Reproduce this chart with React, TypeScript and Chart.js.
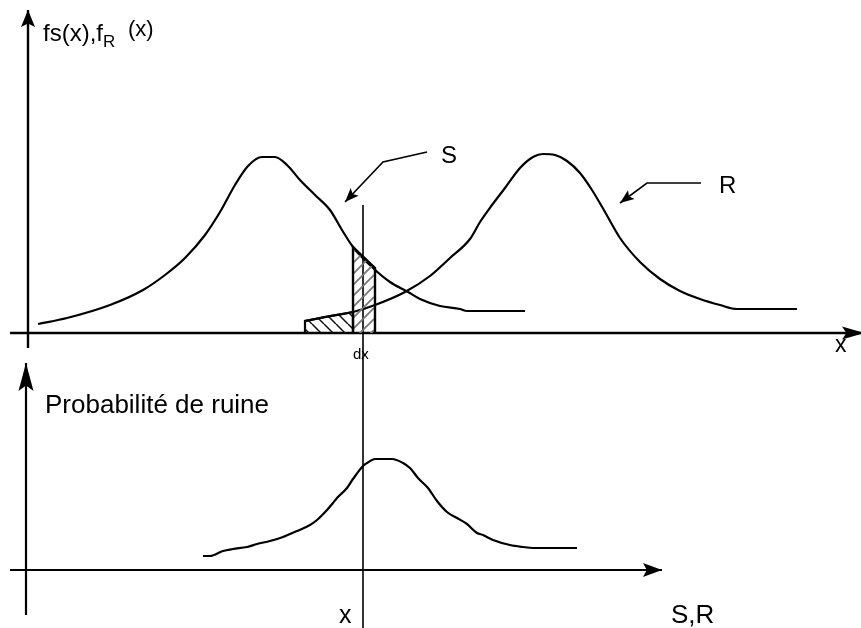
import React, { useEffect, useRef } from "react";
import { Chart, registerables } from "chart.js";

Chart.register(...registerables);

const W = 861;
const H = 628;

// Diagram coordinates (x to the right, y downward, in diagram units)
const sCurveX = [38, 67, 110, 143, 165, 185, 205, 220, 235, 248, 262, 275, 287, 300, 315, 330, 342, 353, 373, 390, 408, 420, 440, 460, 467, 525];
const sCurveY = [324, 318, 305, 290, 275, 258, 235, 212, 185, 166, 157, 157, 165, 180, 195, 210, 230, 247, 268, 282, 292, 299, 306, 309, 311, 311];

const rCurveX = [305, 330, 353, 375, 405, 430, 450, 470, 480, 492, 505, 520, 533, 543, 555, 567, 580, 592, 605, 620, 640, 660, 680, 700, 720, 737, 797];
const rCurveY = [321, 316, 312, 305, 292, 276, 258, 239, 222, 205, 188, 168, 157, 154, 155, 161, 173, 190, 212, 238, 262, 279, 291, 299, 305, 309, 309];

const ruinX = [203, 210, 223, 233, 247, 257, 270, 283, 297, 310, 317, 327, 333, 337, 347, 353, 363, 367, 375, 392, 403, 410, 418, 428, 437, 447, 457, 467, 477, 483, 493, 510, 523, 533, 577];
const ruinY = [556, 556, 551, 549, 547, 544, 541, 537, 531, 525, 520, 510, 503, 498, 488, 479, 466, 463, 459, 459, 463, 468, 478, 488, 501, 512, 518, 524, 533, 535, 540, 545, 547, 548, 548];

const hatchRectX = [353, 353, 375, 375];
const hatchRectY = [333, 247, 268, 333];
const hatchTailX = [305, 305, 353, 353];
const hatchTailY = [333, 321, 312, 333];

const topYAxisX = [28, 28];
const topYAxisY = [348, 10];
const topXAxisX = [10, 864];
const topXAxisY = [333, 333];
const botYAxisX = [26, 26];
const botYAxisY = [615, 363];
const botXAxisX = [10, 662];
const botXAxisY = [570, 570];
const cursorX = [363, 363];
const cursorY = [205, 628];
const sLeaderX = [427, 383, 345];
const sLeaderY = [152, 162, 202];
const rLeaderX = [701, 647, 620];
const rLeaderY = [183, 183, 203];

const labelTexts = ["fs(x),f", "R", "(x)", "S", "R", "x", "dx", "Probabilité de ruine", "x", "S,R"];
const labelX = [43, 103, 128, 441, 719, 835, 353, 45, 339, 671];
const labelY = [41, 47, 36, 163, 193, 352, 359, 413, 623, 623];
const labelSize = [24, 17, 22, 24, 24, 23, 15, 26, 25, 26];

const FONT = "'Liberation Sans', Arial, Helvetica, sans-serif";

function pts(xs: number[], ys: number[]) {
  return xs.map((x, i) => ({ x, y: ys[i] }));
}

function makeHatch(ctx: CanvasRenderingContext2D, forward: boolean, color: string, lw: number, size: number) {
  const c = document.createElement("canvas");
  c.width = size;
  c.height = size;
  const g = c.getContext("2d")!;
  g.strokeStyle = color;
  g.lineWidth = lw;
  g.beginPath();
  for (let k = -1; k <= 1; k++) {
    if (forward) {
      g.moveTo(k * size, size);
      g.lineTo(k * size + size, 0);
    } else {
      g.moveTo(k * size, 0);
      g.lineTo(k * size + size, size);
    }
  }
  g.stroke();
  return ctx.createPattern(c, "repeat");
}

const arrowPlugin = {
  id: "arrowHeads",
  afterDatasetsDraw(chart: any) {
    const ctx = chart.ctx;
    chart.data.datasets.forEach((ds: any, i: number) => {
      if (!ds.arrow) return;
      const meta = chart.getDatasetMeta(i);
      const n = meta.data.length;
      const tip = meta.data[n - 1];
      const prev = meta.data[n - 2];
      const ang = Math.atan2(tip.y - prev.y, tip.x - prev.x);
      const L = ds.arrow.length;
      const hw = ds.arrow.width / 2;
      ctx.save();
      ctx.translate(tip.x, tip.y);
      ctx.rotate(ang);
      ctx.fillStyle = "#000";
      ctx.beginPath();
      ctx.moveTo(0, 0);
      ctx.lineTo(-L, -hw);
      ctx.lineTo(-L * 0.8, 0);
      ctx.lineTo(-L, hw);
      ctx.closePath();
      ctx.fill();
      ctx.restore();
    });
  },
};

const textPlugin = {
  id: "diagramText",
  afterDraw(chart: any) {
    const ctx = chart.ctx;
    const xs = chart.scales.x;
    const ys = chart.scales.y;
    ctx.save();
    ctx.fillStyle = "#000";
    ctx.textBaseline = "alphabetic";
    ctx.textAlign = "left";
    labelTexts.forEach((t, i) => {
      ctx.font = `${labelSize[i]}px ${FONT}`;
      ctx.fillText(t, xs.getPixelForValue(labelX[i]), ys.getPixelForValue(labelY[i]));
    });
    ctx.restore();
  },
};

export default function App() {
  const ref = useRef<HTMLCanvasElement | null>(null);

  useEffect(() => {
    const canvas = ref.current!;
    const ctx = canvas.getContext("2d")!;
    const hatchA = makeHatch(ctx, true, "#7a7a7a", 1.8, 11);
    const hatchB = makeHatch(ctx, false, "#111", 1.5, 12);

    const base = {
      showLine: true,
      pointRadius: 0,
      borderColor: "#000",
      borderWidth: 2,
      fill: false,
      clip: false,
      tension: 0,
    };

    const chart = new Chart(canvas, {
      type: "scatter",
      data: {
        datasets: [
          { ...base, data: pts(hatchTailX, hatchTailY), backgroundColor: hatchB, fill: { value: 333 }, borderWidth: 2.2 },
          { ...base, data: pts(hatchRectX, hatchRectY), backgroundColor: hatchA, fill: { value: 333 }, borderWidth: 2.4 },
          { ...base, data: pts(cursorX, cursorY), borderWidth: 1.6 },
          { ...base, data: pts(sCurveX, sCurveY), tension: 0.4, cubicInterpolationMode: "monotone", borderWidth: 2.2 },
          { ...base, data: pts(rCurveX, rCurveY), tension: 0.4, cubicInterpolationMode: "monotone", borderWidth: 2.2 },
          { ...base, data: pts(ruinX, ruinY), tension: 0.4, cubicInterpolationMode: "monotone", borderWidth: 2.2 },
          { ...base, data: pts(topYAxisX, topYAxisY), borderWidth: 2.4, arrow: { length: 17, width: 14 } },
          { ...base, data: pts(topXAxisX, topXAxisY), borderWidth: 2.4, arrow: { length: 22, width: 13 } },
          { ...base, data: pts(botYAxisX, botYAxisY), borderWidth: 2.2, arrow: { length: 28, width: 15 } },
          { ...base, data: pts(botXAxisX, botXAxisY), borderWidth: 2.2, arrow: { length: 19, width: 14 } },
          { ...base, data: pts(sLeaderX, sLeaderY), borderWidth: 1.6, arrow: { length: 14, width: 11 } },
          { ...base, data: pts(rLeaderX, rLeaderY), borderWidth: 1.6, arrow: { length: 14, width: 11 } },
        ] as any,
      },
      options: {
        animation: false,
        responsive: false,
        maintainAspectRatio: false,
        events: [],
        layout: { padding: 0 },
        plugins: { legend: { display: false }, tooltip: { enabled: false } },
        scales: {
          x: { type: "linear", min: 0, max: W, display: false },
          y: { type: "linear", min: 0, max: H, reverse: true, display: false },
        },
      },
      plugins: [arrowPlugin, textPlugin],
    });
    return () => chart.destroy();
  }, []);

  return (
    <div style={{ position: "absolute", left: 0, top: 0, width: W, height: H, background: "#fff" }}>
      <canvas ref={ref} width={W} height={H} style={{ display: "block", width: W, height: H }} />
    </div>
  );
}
